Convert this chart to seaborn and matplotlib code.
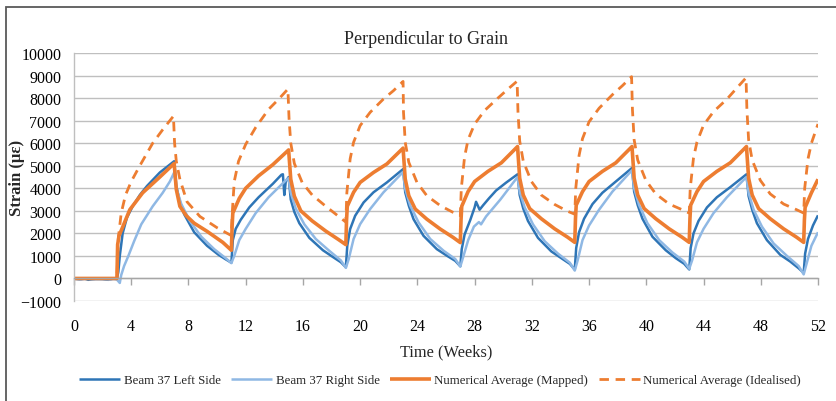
import numpy as np
import pandas as pd
import seaborn as sns
import matplotlib
matplotlib.use("Agg")
import matplotlib.pyplot as plt
from matplotlib.patches import Rectangle

# ---------------- data ----------------
title = "Perpendicular to Grain"
x_label = "Time (Weeks)"
y_label = "Strain (\u03bc\u03b5)"
x_ticks = list(range(0, 53, 4))
y_ticks = list(range(-1000, 10001, 1000))
series_names = ["Beam 37 Left Side", "Beam 37 Right Side",
                "Numerical Average (Mapped)", "Numerical Average (Idealised)"]

left_t = [0, 0.4, 0.7, 1.0, 1.5, 2.0, 2.4, 2.7, 3.0,
          3.1, 3.2, 3.4, 3.7, 4.1, 4.6, 5.1, 6.0, 7.0,
          7.15, 7.4, 7.7, 8.4, 9.3, 10.1, 10.6, 11.0,
          11.1, 11.3, 11.65, 12.25, 12.9, 13.9, 14.5, 14.6, 14.7, 14.8, 15.0,
          15.15, 15.4, 15.75, 16.45, 17.4, 18.1, 18.65, 19.0,
          19.1, 19.3, 19.65, 20.24, 20.93, 21.87, 23.0,
          23.15, 23.4, 23.73, 24.43, 25.36, 26.06, 26.65, 27.0,
          27.1, 27.3, 27.7, 28.0, 28.1, 28.35, 28.6, 29.0, 29.5, 30.2, 31.0,
          31.15, 31.4, 31.73, 32.43, 33.36, 34.06, 34.65, 35.0,
          35.1, 35.3, 35.65, 36.24, 36.93, 37.87, 39.0,
          39.15, 39.4, 39.73, 40.43, 41.36, 42.06, 42.65, 43.0,
          43.1, 43.3, 43.65, 44.24, 44.93, 45.87, 47.0,
          47.15, 47.4, 47.73, 48.43, 49.36, 50.06, 50.65, 51.0,
          51.1, 51.3, 51.65, 52.0]
left_v = [0, -40, 0, -60, -20, -30, -60, -10, -30,
          300, 1000, 2000, 2700, 3200, 3700, 4100, 4700, 5200,
          4100, 3400, 2850, 2050, 1450, 1050, 850, 700,
          1700, 2200, 2600, 3150, 3600, 4200, 4600, 4620, 3700, 4300, 4500,
          3500, 2950, 2450, 1800, 1250, 950, 720, 500,
          1450, 2190, 2780, 3370, 3820, 4260, 4850,
          3820, 3230, 2630, 1890, 1300, 1010, 780, 540,
          1300, 1950, 2600, 3150, 3400, 3050, 3250, 3550, 3900, 4250, 4620,
          3700, 3100, 2550, 1800, 1200, 900, 650, 400,
          1350, 2050, 2650, 3300, 3800, 4300, 4900,
          3850, 3250, 2650, 1850, 1250, 900, 650, 400,
          1350, 2000, 2550, 3150, 3600, 4050, 4620,
          3650, 3050, 2450, 1700, 1050, 750, 450, 250,
          1100, 1750, 2350, 2800]

right_t = [0, 0.5, 0.9, 1.4, 2.0, 2.5, 2.9, 3.0, 3.2,
           3.3, 3.5, 3.8, 4.2, 4.7, 5.5, 6.2, 6.7, 7.0,
           7.15, 7.5, 8.1, 8.9, 9.8, 10.6, 11.0,
           11.2, 11.55, 12.0, 12.7, 13.6, 14.4, 14.8, 15.0,
           15.15, 15.5, 16.1, 16.9, 17.8, 18.65, 19.0,
           19.2, 19.54, 20.0, 20.7, 21.63, 23.0,
           23.15, 23.5, 24.08, 24.9, 25.83, 26.65, 27.0,
           27.2, 27.55, 27.95, 28.3, 28.45, 28.8, 29.8, 30.4, 31.0,
           31.15, 31.5, 32.08, 32.9, 33.83, 34.65, 35.0,
           35.2, 35.54, 36.0, 36.7, 37.63, 39.0,
           39.15, 39.5, 40.08, 40.9, 41.83, 42.65, 43.0,
           43.2, 43.54, 44.0, 44.7, 45.63, 47.0,
           47.15, 47.5, 48.08, 48.9, 49.83, 50.65, 51.0,
           51.2, 51.54, 52.0]
right_v = [-20, -50, -10, -40, -20, -50, -20, -50, -200,
           150, 550, 1000, 1650, 2400, 3200, 3800, 4300, 4700,
           4000, 3300, 2550, 1850, 1300, 900, 680,
           1000, 1700, 2200, 2900, 3600, 4100, 4350, 4450,
           3800, 3100, 2400, 1750, 1250, 800, 470,
           860, 1750, 2410, 3080, 3820, 4720,
           3970, 3230, 2490, 1750, 1230, 860, 530,
           950, 1700, 2300, 2500, 2400, 2750, 3500, 4000, 4500,
           3850, 3150, 2400, 1650, 1100, 700, 350,
           800, 1700, 2350, 3050, 3850, 4800,
           4000, 3250, 2450, 1700, 1150, 750, 430,
           800, 1600, 2200, 2900, 3600, 4500,
           3800, 3050, 2300, 1550, 1000, 550, 180,
           650, 1450, 2050]

mapped_t = [0, 3.0,
            3.05, 3.15, 3.35, 3.9, 4.8, 6.0, 7.0,
            7.15, 7.4, 7.85, 8.4, 9.3, 10.4, 11.0,
            11.05, 11.1, 11.55, 12.0, 12.9, 13.9, 15.0,
            15.15, 15.4, 15.85, 16.65, 17.6, 18.5, 19.0,
            19.05, 19.1, 19.54, 20.0, 20.93, 21.87, 23.0,
            23.15, 23.4, 23.85, 24.66, 25.6, 26.5, 27.0,
            27.05, 27.1, 27.54, 28.0, 28.93, 29.87, 31.0,
            31.15, 31.4, 31.85, 32.66, 33.6, 34.5, 35.0,
            35.05, 35.1, 35.54, 36.0, 36.93, 37.87, 39.0,
            39.15, 39.4, 39.85, 40.66, 41.6, 42.5, 43.0,
            43.05, 43.1, 43.54, 44.0, 44.93, 45.87, 47.0,
            47.15, 47.4, 47.85, 48.66, 49.6, 50.5, 51.0,
            51.05, 51.1, 51.54, 52.0]
mapped_v = [0, 0,
            1500, 1900, 2200, 3050, 3800, 4500, 5100,
            3950, 3200, 2780, 2450, 2090, 1600, 1250,
            2300, 2900, 3550, 4000, 4550, 5050, 5700,
            4400, 3650, 3000, 2550, 2100, 1720, 1500,
            2600, 3200, 3820, 4260, 4700, 5080, 5780,
            4410, 3670, 3080, 2630, 2190, 1820, 1590,
            2600, 3200, 3850, 4300, 4750, 5130, 5850,
            4450, 3700, 3100, 2650, 2200, 1830, 1600,
            2650, 3250, 3850, 4300, 4750, 5130, 5850,
            4450, 3700, 3100, 2650, 2200, 1830, 1600,
            2650, 3250, 3850, 4300, 4750, 5130, 5850,
            4450, 3700, 3100, 2650, 2200, 1830, 1600,
            2600, 3150, 3800, 4400]

ideal_t = [0, 3.0,
           3.1, 3.3, 3.6, 4.0, 4.6, 5.5, 6.2, 6.95,
           7.03, 7.15, 7.4, 7.9, 8.8, 10.0, 11.0,
           11.07, 11.2, 11.5, 12.0, 12.7, 13.6, 14.3, 14.95,
           15.03, 15.15, 15.4, 15.95, 16.65, 17.6, 18.5, 19.0,
           19.07, 19.3, 19.54, 20.0, 20.7, 21.63, 22.33, 23.0,
           23.03, 23.15, 23.4, 23.97, 24.66, 25.6, 26.5, 27.0,
           27.07, 27.3, 27.54, 28.0, 28.7, 29.63, 30.33, 30.97,
           31.03, 31.15, 31.4, 31.97, 32.66, 33.6, 34.5, 35.0,
           35.07, 35.3, 35.54, 36.0, 36.7, 37.63, 38.33, 38.97,
           39.03, 39.15, 39.4, 39.97, 40.66, 41.6, 42.5, 43.0,
           43.07, 43.3, 43.54, 44.0, 44.7, 45.63, 46.33, 46.97,
           47.03, 47.15, 47.4, 47.97, 48.66, 49.6, 50.5, 51.0,
           51.07, 51.3, 51.54, 52.0]
ideal_v = [0, 0,
           1800, 2900, 3700, 4300, 5000, 6000, 6600, 7200,
           6000, 5200, 4400, 3400, 2750, 2250, 1900,
           3000, 4300, 5200, 5950, 6700, 7500, 7950, 8400,
           7100, 6000, 5100, 4250, 3700, 3200, 2750, 2500,
           3800, 5300, 6040, 6780, 7370, 7960, 8330, 8740,
           7370, 6040, 5150, 4260, 3670, 3230, 2930, 2780,
           4000, 5400, 6150, 6850, 7450, 8000, 8400, 8750,
           7400, 6100, 5200, 4300, 3700, 3280, 2980, 2850,
           4000, 5450, 6200, 6950, 7550, 8150, 8550, 8950,
           7500, 6150, 5250, 4350, 3750, 3300, 3050, 2900,
           4000, 5350, 6050, 6800, 7400, 7950, 8450, 8900,
           7500, 6150, 5250, 4350, 3750, 3300, 3050, 2900,
           4000, 5300, 6000, 6850]

# ---------------- style ----------------
sns.set_theme(style="white")
plt.rcParams["font.family"] = ["Liberation Serif", "DejaVu Serif"]

c_dark = "#2E75B6"
c_light = "#8FB8E4"
c_orange = "#ED7D31"
grid_c = "#BFBFBF"

fig = plt.figure(figsize=(8.37, 4.02), dpi=100)
W, H = 837, 402
ax = fig.add_axes([74 / W, 1 - 302 / H, (818 - 74) / W, (302 - 54) / H])

series = [
    (left_t, left_v, series_names[0], c_dark, 1.8, None),
    (right_t, right_v, series_names[1], c_light, 1.8, None),
    (mapped_t, mapped_v, series_names[2], c_orange, 2.6, None),
    (ideal_t, ideal_v, series_names[3], c_orange, 2.0, (3.4, 2.4)),
]
for t, v, name, col, lw, dash in series:
    n = min(len(t), len(v))
    df = pd.DataFrame({"t": t[:n], "v": v[:n]})
    sns.lineplot(data=df, x="t", y="v", ax=ax, color=col, linewidth=lw,
                 estimator=None, sort=False, legend=False)
    line = ax.lines[-1]
    if dash is not None:
        line.set_dashes(dash)
    line.set_solid_capstyle("butt")
    line.set_solid_joinstyle("round")
    line.set_label(name)

ax.set_xlim(0, 52)
ax.set_ylim(-1000, 10000)
ax.set_yticks(y_ticks)
ax.set_xticks(x_ticks)
ax.yaxis.grid(True, color=grid_c, linewidth=1.0)
ax.xaxis.grid(False)
ax.set_axisbelow(True)

for s in ["top", "right"]:
    ax.spines[s].set_visible(False)
ax.spines["left"].set_color(grid_c)
ax.spines["left"].set_linewidth(1.0)
ax.spines["bottom"].set_position(("data", 0))
ax.spines["bottom"].set_color("#A6A6A6")
ax.spines["bottom"].set_linewidth(1.0)

ax.tick_params(axis="x", which="both", direction="out", length=5, width=1,
               color="#A6A6A6", labelbottom=False, bottom=True)
ax.tick_params(axis="y", length=0, pad=9, labelsize=11.5, labelcolor="black")

sec = ax.secondary_xaxis("bottom")
sec.set_xticks(x_ticks)
sec.set_xticklabels([str(x) for x in x_ticks])
sec.tick_params(length=0, pad=12, labelsize=11.5, labelcolor="black")
sec.spines["bottom"].set_visible(False)

ax.set_xlabel("")
ax.set_ylabel(y_label, fontsize=12, fontweight="bold")
ax.yaxis.set_label_coords((25 - 74) / (818 - 74), 0.5)

fig.text(426 / W, 1 - 39 / H, title, ha="center", va="center", fontsize=13)
fig.text(446 / W, 1 - 352 / H, x_label, ha="center", va="center", fontsize=11.8)

handles = ax.lines[:4]
fig.legend(handles, series_names, loc="center", bbox_to_anchor=(440 / W, 1 - 381 / H),
           ncol=4, frameon=False, fontsize=9.3, handlelength=3.2, handletextpad=0.25,
           columnspacing=0.8)

fig.add_artist(Rectangle((6 / W, -0.2), 2.0, 1.2 - 8 / H, transform=fig.transFigure,
                         fill=False, edgecolor="#595959", linewidth=1.3, clip_on=False))

fig.savefig("out.png", dpi=100)
